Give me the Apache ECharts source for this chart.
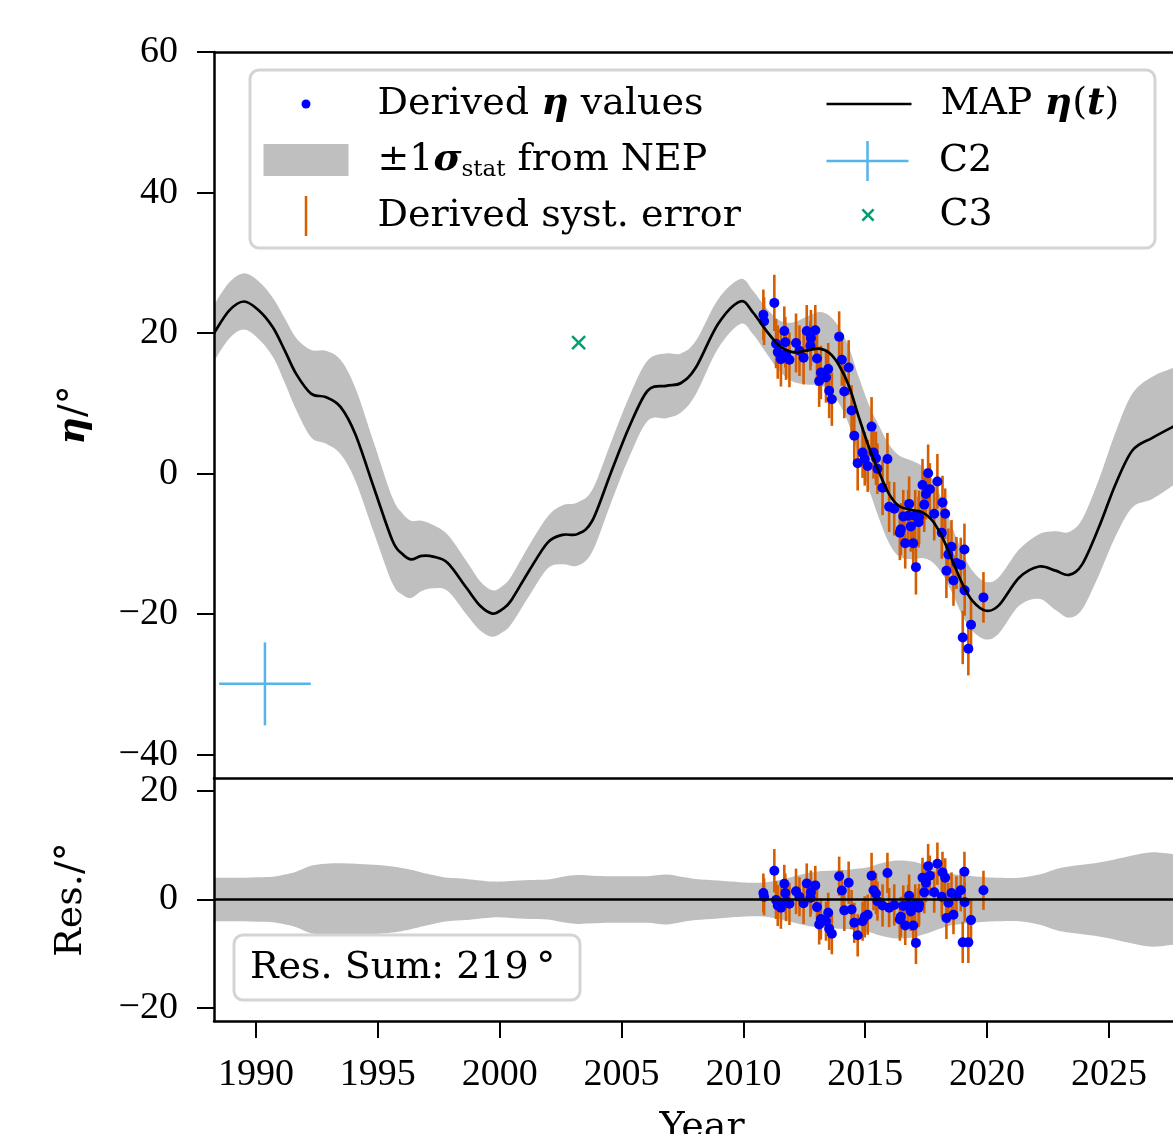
<!DOCTYPE html>
<html><head><meta charset="utf-8">
<script src="https://cdn.jsdelivr.net/npm/echarts@6/dist/echarts.min.js"></script>
<style>html,body{margin:0;padding:0;background:#fff}#c{width:1173px;height:1134px}</style>
</head><body><div id="c"></div>
<script>
// ---------- data ----------
const curveYears = [1988.28,1988.9,1989.5,1990.1,1990.7,1991.2,1991.65,1992.26,1992.86,1993.47,1994.08,1994.84,1995.6,1996.0,1996.36,1996.8,1997.27,1997.87,1998.63,1999.2,1999.7,2000.1,2000.46,2001.21,2001.97,2002.58,2003.19,2003.8,2004.55,2005.31,2006.07,2006.83,2007.44,2008.05,2008.96,2009.87,2010.38,2010.93,2011.48,2012.02,2012.57,2013.11,2013.52,2013.93,2014.34,2014.75,2015.16,2015.57,2015.98,2016.39,2016.94,2017.35,2017.76,2018.17,2018.58,2018.99,2019.4,2019.95,2020.49,2021.31,2022.13,2022.81,2023.36,2023.9,2024.59,2025.27,2025.96,2026.78,2027.75];
const mapEta = [20.0,23.2,24.5,23.3,20.8,17.4,14.2,11.4,10.9,9.5,5.6,-2.0,-9.5,-11.4,-12.2,-11.7,-11.8,-12.7,-16.2,-18.8,-19.9,-19.3,-18.1,-13.8,-9.8,-8.7,-8.6,-6.7,0.0,6.6,11.8,12.5,12.9,15.1,21.3,24.5,23.0,20.4,18.2,17.3,17.5,17.8,17.2,15.4,12.4,7.9,3.7,0.2,-2.9,-4.6,-5.2,-5.5,-6.7,-9.1,-12.4,-15.7,-18.1,-19.5,-18.7,-14.8,-13.2,-13.8,-14.4,-12.9,-7.6,-1.5,3.3,5.1,6.9];
const sigma = [4.0,4.0,4.0,4.1,4.2,4.6,5.1,6.2,6.6,6.7,6.6,6.4,6.1,5.8,5.5,5.0,4.5,4.0,3.8,3.5,3.3,3.3,3.4,3.6,3.7,4.2,4.5,4.4,4.3,4.3,4.3,4.6,4.2,3.8,3.5,3.2,3.1,3.2,3.6,4.2,4.8,5.2,5.3,5.4,5.5,5.7,6.0,6.6,7.0,7.2,7.0,6.5,5.9,5.2,4.7,4.5,4.3,4.1,4.0,4.0,4.6,5.6,6.1,6.4,6.8,7.4,8.1,8.7,8.3];

const obsYears = [2010.82,2010.85,2011.27,2011.34,2011.41,2011.54,2011.68,2011.72,2011.75,2011.89,2012.16,2012.30,2012.47,2012.60,2012.77,2012.75,2012.95,2013.02,2013.11,2013.18,2013.39,2013.48,2013.52,2013.63,2013.93,2014.04,2014.32,2014.14,2014.44,2014.55,2014.69,2014.89,2014.98,2015.10,2015.26,2015.34,2015.44,2015.50,2015.71,2015.91,2015.98,2016.19,2016.42,2016.46,2016.56,2016.64,2016.76,2016.80,2016.87,2016.97,2017.05,2017.08,2017.19,2017.21,2017.35,2017.42,2017.49,2017.58,2017.65,2017.83,2017.96,2018.14,2018.17,2018.28,2018.33,2018.41,2018.54,2018.62,2018.74,2018.92,2019.00,2019.07,2019.08,2019.23,2019.34,2019.85];
const obsEta = [22.6,21.7,24.3,18.5,17.3,16.3,20.3,18.7,17.05,16.2,18.6,17.5,16.5,20.3,19.3,18.2,20.4,16.4,13.2,14.4,13.7,14.9,11.8,10.6,19.5,16.2,15.1,11.7,9.0,5.4,1.5,3.0,2.1,1.1,6.7,3.0,2.2,0.7,-2.0,2.1,-4.7,-5.0,-8.4,-7.9,-6.1,-9.9,-6.0,-4.3,-7.5,-9.9,-6.0,-13.3,-6.9,-6.2,-1.6,-4.4,-2.9,0.05,-2.2,-5.7,-1.1,-8.4,-4.1,-5.7,-13.8,-11.5,-10.4,-15.2,-12.7,-13.0,-23.3,-10.8,-16.6,-24.9,-21.5,-17.6];
const obsRes = [1.2,0.5,5.3,-0.1,-1.1,-1.5,2.9,1.2,-0.3,-0.8,1.5,0.5,-0.7,2.95,1.35,0.3,2.6,-1.4,-4.6,-3.6,-4.0,-2.45,-5.4,-6.3,4.3,1.65,3.1,-2.0,-1.85,-4.3,-6.6,-4.0,-3.2,-2.8,4.4,1.7,1.1,-0.3,-1.1,4.9,-1.5,-1.0,-3.7,-3.2,-1.2,-4.8,-1.0,0.7,-2.2,-4.8,-0.9,-8.0,-1.5,-0.9,4.0,1.35,3.1,6.15,4.4,1.35,6.6,0.5,5.0,4.0,-3.4,-0.6,1.2,-2.8,0.6,1.7,-7.9,5.1,-0.5,-7.9,-3.8,1.7];
const obsErr = [3.6,3.4,4.0,3.5,3.8,3.9,3.5,3.6,3.7,3.9,4.2,3.6,3.8,3.7,4.0,3.5,3.6,3.9,3.7,3.8,3.6,3.7,3.9,3.8,3.6,3.7,3.9,3.8,3.6,3.7,3.9,3.6,3.8,3.7,4.2,3.7,3.8,3.6,3.9,3.7,3.6,3.8,3.9,3.7,3.8,3.6,3.7,3.9,3.6,3.8,3.7,3.9,3.6,3.8,3.7,3.9,3.6,4.1,3.7,3.8,3.9,3.7,3.8,3.6,3.9,3.7,3.8,3.6,3.7,3.9,3.8,3.7,3.6,3.8,3.7,3.6];

const c2Point = [1990.37, -29.9];
const c2Err = [1.88, 5.9];
const c3Point = [2003.24, 18.65];
const resSum = 219;

const xTicks = [1990,1995,2000,2005,2010,2015,2020,2025];
const yTicksTop = [-40,-20,0,20,40,60];
const yTicksRes = [-20,0,20];

// ---------- derived series data ----------
const obsTop = obsYears.map((t,i)=>[t, obsEta[i], obsErr[i]]);
const obsBot = obsYears.map((t,i)=>[t, obsRes[i], obsErr[i]]);

const F = 'Liberation Serif';   // tick labels
const T = 'DejaVu Serif';       // words
const FS = 38;
const TS = 38;
const X0 = 1988.28, X1 = 2027.75;
const minus = v => (v < 0 ? '\u2212' + Math.abs(v) : String(v));

const GREY = '#bfbfbf';
const ORANGE = '#D55E00';
const SKY = '#56B4E9';
const GREEN = '#009E73';

// Catmull-Rom path through screen points (rendering only)
function crSegs(p, start) {
  let d = start ? 'M' + p[0][0] + ',' + p[0][1] : 'L' + p[0][0] + ',' + p[0][1];
  for (let i = 0; i < p.length - 1; i++) {
    const p0 = p[i-1] || p[i], p1 = p[i], p2 = p[i+1], p3 = p[i+2] || p[i+1];
    const c1x = p1[0] + (p2[0]-p0[0])/6, c1y = p1[1] + (p2[1]-p0[1])/6;
    const c2x = p2[0] - (p3[0]-p1[0])/6, c2y = p2[1] - (p3[1]-p1[1])/6;
    d += ' C' + c1x + ',' + c1y + ' ' + c2x + ',' + c2y + ' ' + p2[0] + ',' + p2[1];
  }
  return d;
}
function bandRender(center) {
  return function (params, api) {
    const up = curveYears.map((t,i)=>api.coord([t, (center ? mapEta[i] : 0) + sigma[i]]));
    const lo = curveYears.map((t,i)=>api.coord([t, (center ? mapEta[i] : 0) - sigma[i]])).reverse();
    const d = crSegs(up, true) + ' ' + crSegs(lo, false) + ' Z';
    return {type:'path', shape:{pathData:d}, style:{fill:GREY, stroke:null}};
  };
}
function mapRender(params, api) {
  const pts = curveYears.map((t,i)=>api.coord([t, mapEta[i]]));
  return {type:'path', shape:{pathData:crSegs(pts, true)}, style:{fill:null, stroke:'#000', lineWidth:2.7}};
}
function errRender(params, api) {
  const x = api.value(0), y = api.value(1), e = api.value(2);
  const p1 = api.coord([x, y - e]), p2 = api.coord([x, y + e]);
  return {type:'line', shape:{x1:p1[0], y1:p1[1], x2:p2[0], y2:p2[1]}, style:{stroke:ORANGE, lineWidth:2.6}};
}
function c2Render(params, api) {
  const x = api.value(0), y = api.value(1), ex = api.value(2), ey = api.value(3);
  const l = api.coord([x-ex, y]), r = api.coord([x+ex, y]);
  const t = api.coord([x, y+ey]), b = api.coord([x, y-ey]);
  return {type:'group', children:[
    {type:'line', shape:{x1:l[0],y1:l[1],x2:r[0],y2:r[1]}, style:{stroke:SKY, lineWidth:2.5}},
    {type:'line', shape:{x1:t[0],y1:t[1],x2:b[0],y2:b[1]}, style:{stroke:SKY, lineWidth:2.5}}
  ]};
}
function c3Render(params, api) {
  const c = api.coord([api.value(0), api.value(1)]);
  const d = 6.5;
  return {type:'group', children:[
    {type:'line', shape:{x1:c[0]-d,y1:c[1]-d,x2:c[0]+d,y2:c[1]+d}, style:{stroke:GREEN, lineWidth:2.5}},
    {type:'line', shape:{x1:c[0]-d,y1:c[1]+d,x2:c[0]+d,y2:c[1]-d}, style:{stroke:GREEN, lineWidth:2.5}}
  ]};
}

const rich = {
  r:{fontFamily:T, fontSize:TS, color:'#000', lineHeight:44},
  m:{fontFamily:T, fontSize:TS, color:'#000', fontStyle:'italic', fontWeight:'bold', lineHeight:44},
  s:{fontFamily:T, fontSize:23, color:'#000', lineHeight:24, verticalAlign:'bottom'}
};
const legendLabels = {
  eta:'{r|Derived }{m|η}{r| values}',
  band:'{r|±1}{m|σ}{s|stat}{r| from NEP}',
  syst:'{r|Derived syst. error}',
  map:'{r|MAP }{m|η}{r|(}{m|t}{r|)}',
  c2:'{r|C2}',
  c3:'{r|C3}'
};
function leg(name, left, top, icon, ih, color) {
  return {show:true, selectedMode:false, orient:'vertical', left, top, padding:0,
    itemWidth:85, itemHeight:ih, itemGap:0, z:6, symbolKeepAspect:true,
    data:[{name, icon, itemStyle:{color, borderWidth:0}}],
    formatter: n => legendLabels[n],
    textStyle:{fontFamily:T, fontSize:TS, color:'#000', padding:[0,0,0,24], rich}};
}

const axisLineStyle = {color:'#000', width:2.5};
const tickStyle = {length:17, lineStyle:{color:'#000', width:2}};

const option = {
  animation:false,
  backgroundColor:'#fff',
  grid:[
    {left:214, top:52, width:962, height:726, outerBoundsMode:'none', containLabel:false},
    {left:214, top:778, width:962, height:243, outerBoundsMode:'none', containLabel:false}
  ],
  xAxis:[
    {type:'value', gridIndex:0, min:X0, max:X1, position:'bottom', z:10,
     axisLine:{show:true, onZero:false, lineStyle:axisLineStyle}, axisTick:{show:false}, axisLabel:{show:false}, splitLine:{show:false}},
    {type:'value', gridIndex:0, min:X0, max:X1, position:'top', z:10,
     axisLine:{show:true, onZero:false, lineStyle:axisLineStyle}, axisTick:{show:false}, axisLabel:{show:false}, splitLine:{show:false}},
    {type:'value', gridIndex:1, min:X0, max:X1, position:'bottom', z:10,
     axisLine:{show:true, onZero:false, lineStyle:axisLineStyle},
     axisTick:Object.assign({show:true, customValues:xTicks}, tickStyle),
     axisLabel:{show:true, customValues:xTicks, margin:35, fontFamily:F, fontSize:FS, color:'#000', formatter:v=>String(v)},
     splitLine:{show:false},
     name:'Year', nameLocation:'middle', nameGap:88,
     nameTextStyle:{fontFamily:T, fontSize:TS, color:'#000', padding:[0,0,0,14]}}
  ],
  yAxis:[
    {type:'value', gridIndex:0, min:-43.3, max:60, z:10,
     axisLine:{show:true, onZero:false, lineStyle:axisLineStyle},
     axisTick:Object.assign({show:true, customValues:yTicksTop}, tickStyle),
     axisLabel:{show:true, customValues:yTicksTop, margin:36, fontFamily:F, fontSize:FS, color:'#000', formatter:minus},
     splitLine:{show:false},
     name:'{m|η}{r|/°}', nameLocation:'middle', nameRotate:90, nameGap:118,
     nameTextStyle:{rich}},
    {type:'value', gridIndex:1, min:-22.4, max:22.4, z:10,
     axisLine:{show:true, onZero:false, lineStyle:axisLineStyle},
     axisTick:Object.assign({show:true, customValues:yTicksRes}, tickStyle),
     axisLabel:{show:true, customValues:yTicksRes, margin:36, fontFamily:F, fontSize:FS, color:'#000', formatter:minus},
     splitLine:{show:false},
     name:'Res./°', nameLocation:'middle', nameRotate:90, nameGap:124,
     nameTextStyle:{fontFamily:T, fontSize:TS, color:'#000'}}
  ],
  legend:[
    leg('eta', 301.5, 85, 'circle', 9, '#0000ff'),
    leg('band', 263.5, 141, 'rect', 32, GREY),
    leg('syst', 304.75, 196, 'path://M0,0h2.5v40h-2.5z', 40, ORANGE),
    leg('map', 826.5, 85, 'path://M0,0h82v2.5h-82z', 10, '#000'),
    leg('c2', 826.5, 141, 'path://M0,18.75h82v2.5h-82zM39.75,0h2.5v40h-2.5z', 40, SKY),
    leg('c3', 861.5, 196, 'path://M1.7,0L6,4.3L10.3,0L12,1.7L7.7,6L12,10.3L10.3,12L6,7.7L1.7,12L0,10.3L4.3,6L0,1.7Z', 13, GREEN)
  ],
  graphic:[
    {type:'rect', z:4, shape:{x:250, y:70, width:905, height:178, r:9}, style:{fill:'#fff', stroke:'#d4d4d4', lineWidth:3}},
    {type:'rect', z:4, shape:{x:234, y:935, width:346, height:65, r:9}, style:{fill:'#fff', stroke:'#d4d4d4', lineWidth:3}},
    {type:'text', z:5, x:250, y:968, style:{text:'Res. Sum: ' + resSum + '\u2009°', fontFamily:T, fontSize:TS, fill:'#000', verticalAlign:'middle', align:'left'}}
  ],
  series:[
    // top panel band
    {name:'band', type:'custom', xAxisIndex:0, yAxisIndex:0, data:[[curveYears[0], mapEta[0]]], encode:{x:0, y:1},
     renderItem:bandRender(true), itemStyle:{color:GREY}, clip:true, z:1, silent:true},
    // top panel error bars and points
    {name:'syst', type:'custom', xAxisIndex:0, yAxisIndex:0, data:obsTop, encode:{x:0, y:1}, renderItem:errRender, itemStyle:{color:ORANGE}, z:3, silent:true},
    {name:'eta', type:'scatter', xAxisIndex:0, yAxisIndex:0, data:obsTop, symbol:'circle', symbolSize:10, itemStyle:{color:'#0000ff', opacity:1}, z:4, silent:true},
    // MAP curve
    {name:'map', type:'custom', xAxisIndex:0, yAxisIndex:0, data:[[curveYears[0], mapEta[0]]], encode:{x:0, y:1},
     renderItem:mapRender, itemStyle:{color:'#000'}, clip:true, z:5, silent:true},
    // C2, C3
    {name:'c2', type:'custom', xAxisIndex:0, yAxisIndex:0, data:[[c2Point[0], c2Point[1], c2Err[0], c2Err[1]]], encode:{x:0, y:1}, renderItem:c2Render, itemStyle:{color:SKY}, z:5, silent:true},
    {name:'c3', type:'custom', xAxisIndex:0, yAxisIndex:0, data:[c3Point], encode:{x:0, y:1}, renderItem:c3Render, itemStyle:{color:GREEN}, z:5, silent:true},
    // residual panel band + zero line
    {name:'resBand', type:'custom', xAxisIndex:2, yAxisIndex:1, data:[[curveYears[0], 0]], encode:{x:0, y:1},
     renderItem:bandRender(false), clip:true, z:1, silent:true,
     markLine:{silent:true, symbol:'none', label:{show:false}, lineStyle:{color:'#000', width:2.5, type:'solid'}, data:[{yAxis:0}], z:6}},
    {name:'resErr', type:'custom', xAxisIndex:2, yAxisIndex:1, data:obsBot, encode:{x:0, y:1}, renderItem:errRender, z:3, silent:true},
    {name:'resPts', type:'scatter', xAxisIndex:2, yAxisIndex:1, data:obsBot, symbol:'circle', symbolSize:10, itemStyle:{color:'#0000ff', opacity:1}, z:4, silent:true}
  ]
};
const chart = echarts.init(document.getElementById('c'), null, {renderer:'canvas'});
chart.setOption(option);
</script>
</body></html>
